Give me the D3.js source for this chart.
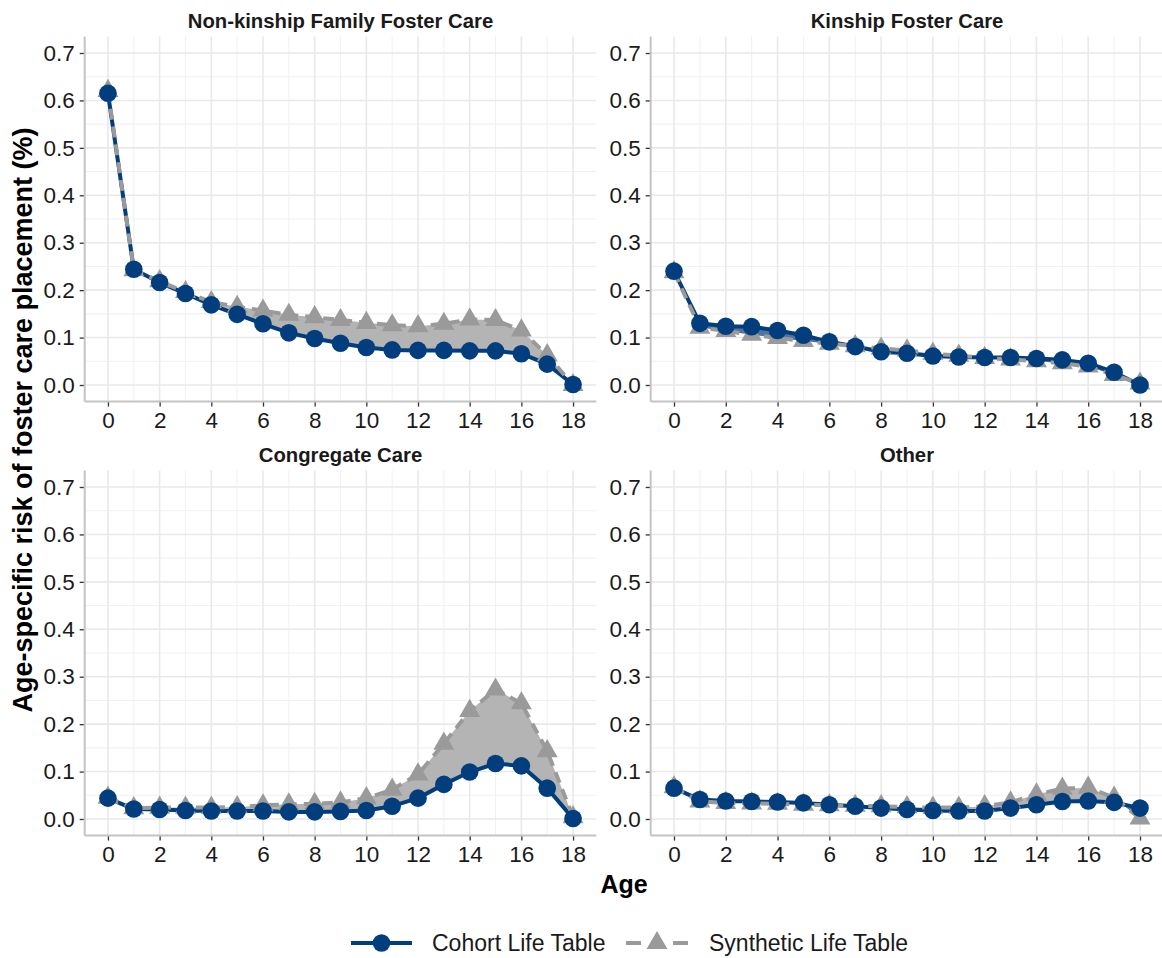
<!DOCTYPE html>
<html>
<head>
<meta charset="utf-8">
<script src="https://cdn.jsdelivr.net/npm/d3@7"></script>
<style>
  html, body { margin: 0; padding: 0; background: #ffffff; }
  svg { display: block; font-family: "Liberation Sans", Arial, Helvetica, sans-serif; }
</style>
</head>
<body>
<svg id="chart" width="1162" height="958"></svg>
<script>
// ---------------- data ----------------
const ages = [0, 1, 2, 3, 4, 5, 6, 7, 8, 9, 10, 11, 12, 13, 14, 15, 16, 17, 18];
const panelTitles = ["Non-kinship Family Foster Care", "Kinship Foster Care", "Congregate Care", "Other"];
const seriesNames = ["Cohort Life Table", "Synthetic Life Table"];

const nonkinCohort    = [0.615, 0.244, 0.216, 0.193, 0.169, 0.149, 0.129, 0.110, 0.098, 0.088, 0.079, 0.074, 0.073, 0.073, 0.072, 0.072, 0.066, 0.044, 0.001];
const nonkinSynthetic = [0.620, 0.242, 0.219, 0.196, 0.175, 0.165, 0.157, 0.148, 0.143, 0.137, 0.131, 0.126, 0.124, 0.129, 0.138, 0.137, 0.115, 0.063, 0.000];

const kinCohort       = [0.240, 0.130, 0.124, 0.123, 0.115, 0.105, 0.091, 0.081, 0.070, 0.067, 0.061, 0.059, 0.058, 0.058, 0.056, 0.053, 0.046, 0.027, 0.000];
const kinSynthetic    = [0.238, 0.121, 0.114, 0.106, 0.099, 0.093, 0.087, 0.082, 0.077, 0.073, 0.066, 0.062, 0.057, 0.054, 0.050, 0.046, 0.039, 0.021, 0.003];

const congCohort      = [0.044, 0.021, 0.020, 0.018, 0.017, 0.017, 0.017, 0.015, 0.015, 0.016, 0.018, 0.027, 0.044, 0.073, 0.099, 0.117, 0.112, 0.065, 0.001];
const congSynthetic   = [0.045, 0.023, 0.024, 0.024, 0.024, 0.025, 0.029, 0.031, 0.032, 0.035, 0.044, 0.062, 0.094, 0.159, 0.228, 0.273, 0.244, 0.143, 0.004];

const otherCohort     = [0.065, 0.041, 0.038, 0.037, 0.036, 0.034, 0.030, 0.027, 0.023, 0.020, 0.018, 0.017, 0.017, 0.023, 0.030, 0.037, 0.038, 0.035, 0.023];
const otherSynthetic  = [0.067, 0.037, 0.034, 0.033, 0.032, 0.030, 0.029, 0.028, 0.027, 0.025, 0.024, 0.024, 0.027, 0.035, 0.052, 0.064, 0.066, 0.045, 0.001];

const xTicks = [0, 2, 4, 6, 8, 10, 12, 14, 16, 18];
const xMinor = [1, 3, 5, 7, 9, 11, 13, 15, 17];
const yTicks = [0, 0.1, 0.2, 0.3, 0.4, 0.5, 0.6, 0.7];
const yMinor = [0.05, 0.15, 0.25, 0.35, 0.45, 0.55, 0.65];

const xLabel = "Age";
const yLabel = "Age-specific risk of foster care placement (%)";

// ---------------- styling / layout ----------------
const BLUE = "#023e7d";
const GREY_LINE = "#9a9a9a";
const GREY_FILL = "#b4b4b4";
const BLUE_FILL = "#52739f";

const panels = [
  { title: panelTitles[0], coh: nonkinCohort, syn: nonkinSynthetic, x0: 84.7,  x1: 596.3,  y0: 36.4,  y1: 401.6 },
  { title: panelTitles[1], coh: kinCohort,    syn: kinSynthetic,    x0: 650.7, x1: 1163.3, y0: 36.4,  y1: 401.6 },
  { title: panelTitles[2], coh: congCohort,   syn: congSynthetic,   x0: 84.7,  x1: 596.3,  y0: 470.4, y1: 835.6 },
  { title: panelTitles[3], coh: otherCohort,  syn: otherSynthetic,  x0: 650.7, x1: 1163.3, y0: 470.4, y1: 835.6 }
];

const svg = d3.select("#chart");
const triSym = d3.symbol().type(d3.symbolTriangle).size(190);

panels.forEach(p => {
  const x = d3.scaleLinear().domain([-0.9, 18.9]).range([p.x0, p.x1]);
  const y = d3.scaleLinear().domain([-0.035, 0.735]).range([p.y1, p.y0]);
  const g = svg.append("g");

  // grid
  const grid = g.append("g");
  grid.selectAll(".ymin").data(yMinor).enter().append("line")
    .attr("x1", p.x0).attr("x2", p.x1).attr("y1", d => y(d)).attr("y2", d => y(d))
    .attr("stroke", "#f1f1f1").attr("stroke-width", 1.1);
  grid.selectAll(".xmin").data(xMinor).enter().append("line")
    .attr("y1", p.y0).attr("y2", p.y1).attr("x1", d => x(d)).attr("x2", d => x(d))
    .attr("stroke", "#f1f1f1").attr("stroke-width", 1.1);
  grid.selectAll(".ymaj").data(yTicks).enter().append("line")
    .attr("x1", p.x0).attr("x2", p.x1).attr("y1", d => y(d)).attr("y2", d => y(d))
    .attr("stroke", "#e9e9e9").attr("stroke-width", 1.6);
  grid.selectAll(".xmaj").data(xTicks).enter().append("line")
    .attr("y1", p.y0).attr("y2", p.y1).attr("x1", d => x(d)).attr("x2", d => x(d))
    .attr("stroke", "#e9e9e9").attr("stroke-width", 1.6);

  // axes
  const xAxis = d3.axisBottom(x).tickValues(xTicks).tickSize(5).tickPadding(5).tickFormat(d3.format("d"));
  const yAxis = d3.axisLeft(y).tickValues(yTicks).tickSize(5).tickPadding(5).tickFormat(d3.format(".1f"));
  const gx = g.append("g").attr("transform", `translate(0,${p.y1})`).call(xAxis);
  const gy = g.append("g").attr("transform", `translate(${p.x0},0)`).call(yAxis);
  [gx, gy].forEach(a => {
    a.select(".domain").remove();
    a.selectAll(".tick line").attr("stroke", "#333333").attr("stroke-width", 1.3);
    a.selectAll(".tick text").attr("fill", "#1a1a1a").style("font-size", "22.5px")
      .style("font-family", "'Liberation Sans', Arial, sans-serif");
  });
  gx.selectAll(".tick text").attr("dy", "0.71em");
  // axis lines
  g.append("line").attr("x1", p.x0).attr("x2", p.x1).attr("y1", p.y1).attr("y2", p.y1)
    .attr("stroke", "#c4c4c4").attr("stroke-width", 2);
  g.append("line").attr("x1", p.x0).attr("x2", p.x0).attr("y1", p.y0).attr("y2", p.y1)
    .attr("stroke", "#c4c4c4").attr("stroke-width", 2);

  // strip title
  g.append("text").attr("x", (p.x0 + Math.min(p.x1, 1162 + 1.3)) / 2).attr("y", p.y0 - 8)
    .attr("text-anchor", "middle").style("font-size", "20.3px").style("font-weight", "bold")
    .attr("fill", "#1a1a1a").text(p.title);

  // ribbon data with crossing points inserted
  const pts = [];
  for (let i = 0; i < ages.length; i++) {
    pts.push({ a: ages[i], c: p.coh[i], s: p.syn[i] });
    if (i < ages.length - 1) {
      const d0 = p.syn[i] - p.coh[i], d1 = p.syn[i + 1] - p.coh[i + 1];
      if (d0 * d1 < 0) {
        const t = d0 / (d0 - d1);
        const a = ages[i] + t * (ages[i + 1] - ages[i]);
        const c = p.coh[i] + t * (p.coh[i + 1] - p.coh[i]);
        pts.push({ a: a, c: c, s: c });
      }
    }
  }
  const greyArea = d3.area().x(d => x(d.a)).y0(d => y(d.c)).y1(d => y(Math.max(d.c, d.s)));
  const blueArea = d3.area().x(d => x(d.a)).y0(d => y(d.s)).y1(d => y(Math.max(d.c, d.s)));
  g.append("path").attr("d", blueArea(pts)).attr("fill", BLUE_FILL).attr("stroke", "none");
  g.append("path").attr("d", greyArea(pts)).attr("fill", GREY_FILL).attr("stroke", "none");

  const rows = ages.map((a, i) => ({ a: a, c: p.coh[i], s: p.syn[i] }));
  const lineC = d3.line().x(d => x(d.a)).y(d => y(d.c));
  const lineS = d3.line().x(d => x(d.a)).y(d => y(d.s));

  g.append("path").attr("d", lineC(rows)).attr("fill", "none").attr("stroke", BLUE)
    .attr("stroke-width", 4).attr("stroke-linejoin", "round");
  g.append("path").attr("d", lineS(rows)).attr("fill", "none").attr("stroke", GREY_LINE)
    .attr("stroke-width", 4).attr("stroke-dasharray", "11,7").attr("stroke-linejoin", "round");

  g.selectAll(".tri").data(rows).enter().append("path")
    .attr("d", triSym).attr("transform", d => `translate(${x(d.a)},${y(d.s)})`)
    .attr("fill", GREY_LINE);
  g.selectAll(".dot").data(rows).enter().append("circle")
    .attr("cx", d => x(d.a)).attr("cy", d => y(d.c)).attr("r", 8.8)
    .attr("fill", BLUE);
});

// axis titles
svg.append("text").attr("x", 624).attr("y", 893).attr("text-anchor", "middle")
  .style("font-size", "25px").style("font-weight", "bold").attr("fill", "#000").text(xLabel);
svg.append("text").attr("transform", "translate(32,420) rotate(-90)").attr("text-anchor", "middle")
  .style("font-size", "27px").style("font-weight", "bold").attr("fill", "#000").text(yLabel);

// legend
const leg = svg.append("g");
const ly = 943;
leg.append("line").attr("x1", 351).attr("x2", 412).attr("y1", ly).attr("y2", ly)
  .attr("stroke", BLUE).attr("stroke-width", 4);
leg.append("circle").attr("cx", 381.5).attr("cy", ly).attr("r", 8.8).attr("fill", BLUE);
leg.append("text").attr("x", 432).attr("y", ly).attr("dy", "0.35em")
  .style("font-size", "23px").attr("fill", "#1a1a1a").text(seriesNames[0]);
leg.append("line").attr("x1", 626).attr("x2", 688).attr("y1", ly).attr("y2", ly)
  .attr("stroke", GREY_LINE).attr("stroke-width", 4).attr("stroke-dasharray", "15,32");
leg.append("path").attr("d", triSym).attr("transform", `translate(657,${ly})`).attr("fill", GREY_LINE);
leg.append("text").attr("x", 709).attr("y", ly).attr("dy", "0.35em")
  .style("font-size", "23px").attr("fill", "#1a1a1a").text(seriesNames[1]);
</script>
</body>
</html>
